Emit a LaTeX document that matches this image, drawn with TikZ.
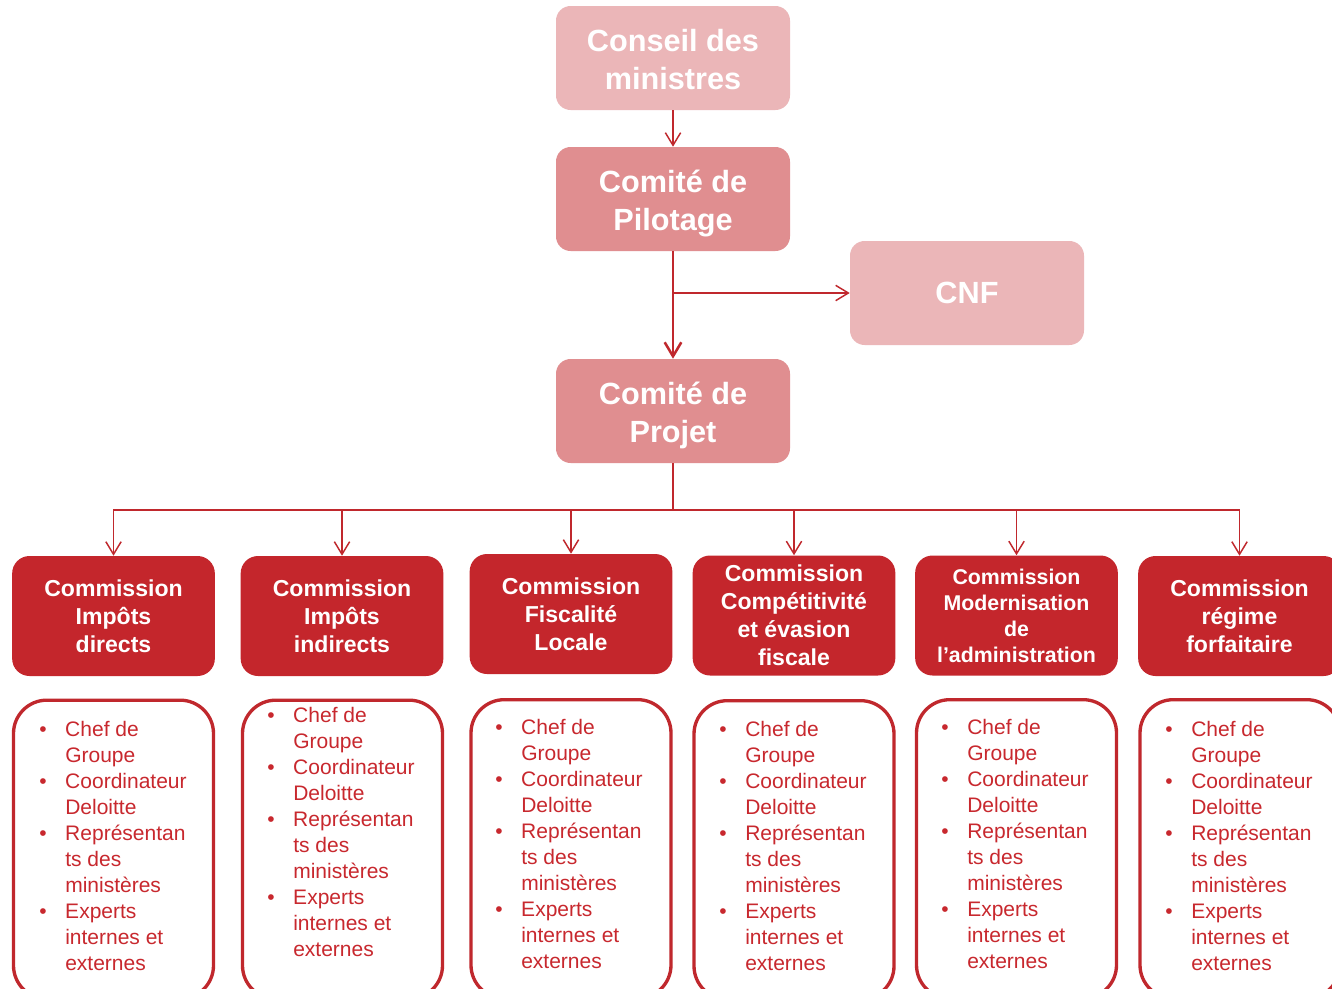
\documentclass[tikz,border=0pt]{standalone}
\usepackage{fontspec}
\setmainfont{Liberation Sans}
\usetikzlibrary{arrows.meta}
\definecolor{lightpink}{HTML}{EBB6B8}
\definecolor{midpink}{HTML}{E08E90}
\definecolor{comred}{HTML}{C4262C}
\definecolor{linered}{HTML}{C0282D}
\definecolor{txtred}{HTML}{C8282E}
\newcommand{\bul}{\makebox[19.5pt][l]{\textbullet}}
\newcommand{\topstrut}{\rule{0pt}{23.5pt}}
\newcommand{\botstrut}{\rule[-5.5pt]{0pt}{0pt}}
\newcommand{\memlist}{%
\begin{tabular}[t]{@{}l@{}l@{}}
\bul & Chef de\\
 & Groupe\\
\bul & Coordinateur\\
 & Deloitte\\
\bul & Représentan\\
 & ts des\\
 & ministères\\
\bul & Experts\\
 & internes et\\
 & externes
\end{tabular}}
\tikzset{
  topbox/.style={rounded corners=11pt, minimum width=175.5pt, minimum height=78pt, inner sep=0pt,
    text=white, align=center, font=\bfseries\fontsize{23}{28.5}\selectfont},
  combox/.style={fill=comred, rounded corners=13pt, minimum width=152pt, minimum height=90pt, inner sep=0pt,
    text=white, align=center, font=\bfseries\fontsize{17.3}{21}\selectfont},
  memberbox/.style={draw=linered, line width=2.5pt, rounded corners=25pt, minimum width=150pt,
    minimum height=224pt, anchor=north, inner sep=0pt},
  memtext/.style={anchor=base west, inner sep=0pt, text=txtred, font=\fontsize{15.75}{19.5}\selectfont},
  conn/.style={draw=linered, line width=1.1pt},
  thinarr/.style={conn, -{Straight Barb[length=9.5pt, width=11.5pt, line width=1.1pt]}},
  thickarr/.style={draw=linered, line width=1.9pt, -{Straight Barb[length=10.5pt, width=12.5pt, line width=1.9pt]}},
}
\begin{document}
\begin{tikzpicture}[x=0.75pt, y=-0.75pt]
\useasboundingbox (0,0) rectangle (1332,989);
\clip (0,0) rectangle (1332,989);
\fill[white] (0,0) rectangle (1332,989);

% top boxes
\node[topbox, fill=lightpink] (conseil) at (673,58) {\topstrut Conseil des\\ministres\botstrut};
\node[topbox, fill=midpink] (pilotage) at (673,199) {\topstrut Comité de\\Pilotage\botstrut};
\node[topbox, fill=lightpink] (cnf) at (967,293) {CNF};
\node[topbox, fill=midpink] (projet) at (673,411) {\topstrut Comité de\\Projet\botstrut};

% commissions
\node[combox] (c1) at (113.5,616) {Commission\\Impôts\\directs};
\node[combox] (c2) at (342,616) {Commission\\Impôts\\indirects};
\node[combox] (c3) at (571,614) {Commission\\Fiscalité\\Locale};
\node[combox] (c4) at (794,615.5) {Commission\\Compétitivité\\et évasion\\fiscale};
\node[combox, font=\bfseries\fontsize{16}{19.5}\selectfont] (c5) at (1016.5,615.5) {Commission\\Modernisation\\de\\l’administration};
\node[combox] (c6) at (1239.5,616) {Commission\\régime\\forfaitaire};

% member boxes
\node[memberbox] (m1) at (113.5,698.5) {};
\node[memberbox] (m2) at (342.5,698.5) {};
\node[memberbox] (m3) at (571,698) {};
\node[memberbox] (m4) at (794,699) {};
\node[memberbox] (m5) at (1016.5,698) {};
\node[memberbox] (m6) at (1240,698) {};

\node[memtext] (t1) at (39,736) {\memlist};
\node[memtext] (t2) at (267,722) {\memlist};
\node[memtext] (t3) at (495,734) {\memlist};
\node[memtext] (t4) at (719,736) {\memlist};
\node[memtext] (t5) at (941,734) {\memlist};
\node[memtext] (t6) at (1165,736) {\memlist};

% connectors
\draw[thinarr] (conseil.south) -- (pilotage.north);
\draw[thickarr] (pilotage.south) -- (projet.north);
\coordinate (j) at (673,293);
\draw[thinarr] (j) -- (cnf.west);
\coordinate (bus) at (673,510);
\draw[conn] (projet.south) -- (bus);
\foreach \c in {c1,c2,c3,c4,c5,c6}
  \draw[thinarr] (bus) -| (\c.north);
\end{tikzpicture}
\end{document}
